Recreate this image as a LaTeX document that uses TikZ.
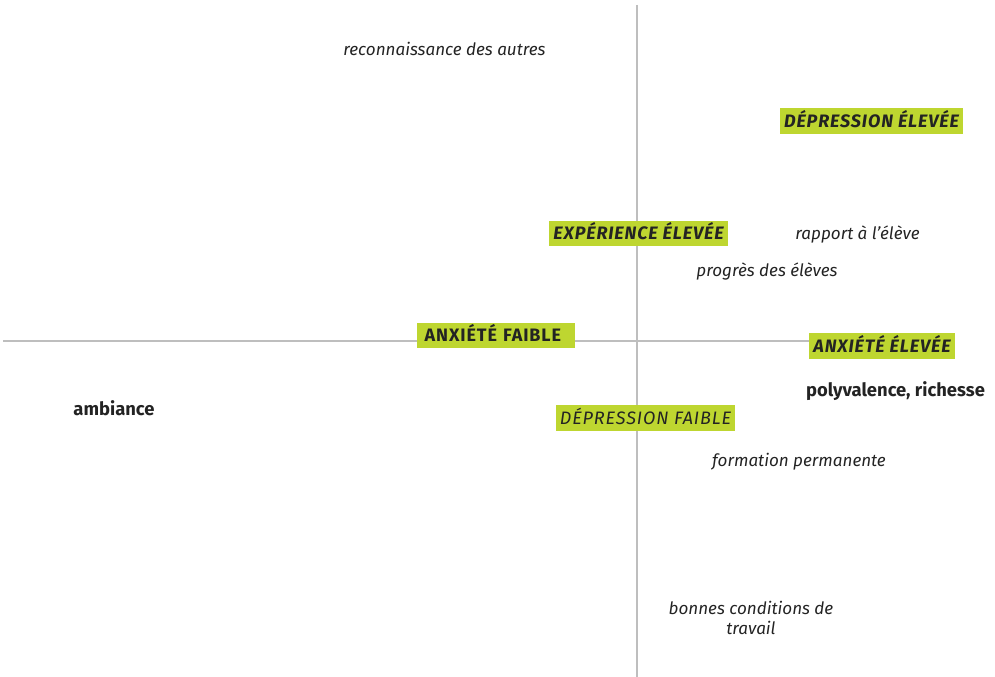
\documentclass[tikz,border=0pt]{standalone}
\usepackage{fontspec}
\setmainfont{Fira Sans}
\usepackage{tikz}
\definecolor{lime}{RGB}{190,214,48}
\definecolor{axisgray}{RGB}{190,190,190}
\definecolor{ink}{RGB}{35,35,35}

\begin{document}
\begin{tikzpicture}[x=0.75pt,y=-0.75pt,
	every node/.style={text=ink, inner sep=0pt},
	factor/.style={font=\fontsize{12.8pt}{15pt}\selectfont\itshape},
	strong/.style={font=\fontsize{13.8pt}{16pt}\selectfont\bfseries},
	tag/.style={fill=lime, minimum height=19pt, inner xsep=3pt, text depth=0pt, text height=9.4pt},
	caps/.style={font=\fontsize{13.5pt}{16pt}\selectfont\addfontfeature{LetterSpace=5}#1},
	caps/.default={\bfseries\itshape}]
			\useasboundingbox (0,0) rectangle (995,677);
			% axes
			\coordinate (top) at (637,5);
			\coordinate (bottom) at (637,677);
			\coordinate (left) at (3,341);
			\coordinate (right) at (900,341);
			\draw[axisgray, line width=1pt] (top) -- (bottom);
			\draw[axisgray, line width=1pt] (left) -- (right);
			% pole labels
			\node[tag, caps] (depHigh) at (871.5,121) {DÉPRESSION ÉLEVÉE};
			\node[tag, caps] (expHigh) at (638.5,233.5) {EXPÉRIENCE ÉLEVÉE};
			\node[tag, caps=\bfseries, minimum width=118.5pt, align=left, text width=107pt] (anxLow) at (496,335.5) {ANXIÉTÉ FAIBLE};
			\node[tag, caps] (anxHigh) at (882,346) {ANXIÉTÉ ÉLEVÉE};
			\node[tag, caps=\itshape] (depLow) at (645.5,418) {DÉPRESSION FAIBLE};
			% factors
			\node[factor] (reco) at (444.5,48.5) {reconnaissance des autres};
			\node[factor] (rapport) at (857.5,234.5) {rapport à l'élève};
			\node[factor] (progres) at (767,271.5) {progrès des élèves};
			\node[strong] (poly) at (895.5,391.5) {polyvalence, richesse};
			\node[strong] (amb) at (114,408.5) {ambiance};
			\node[factor] (forma) at (799,461.5) {formation permanente};
			\node[factor, align=center] (cond) at (751,618) {bonnes conditions de\\travail};
		\end{tikzpicture}
\end{document}
